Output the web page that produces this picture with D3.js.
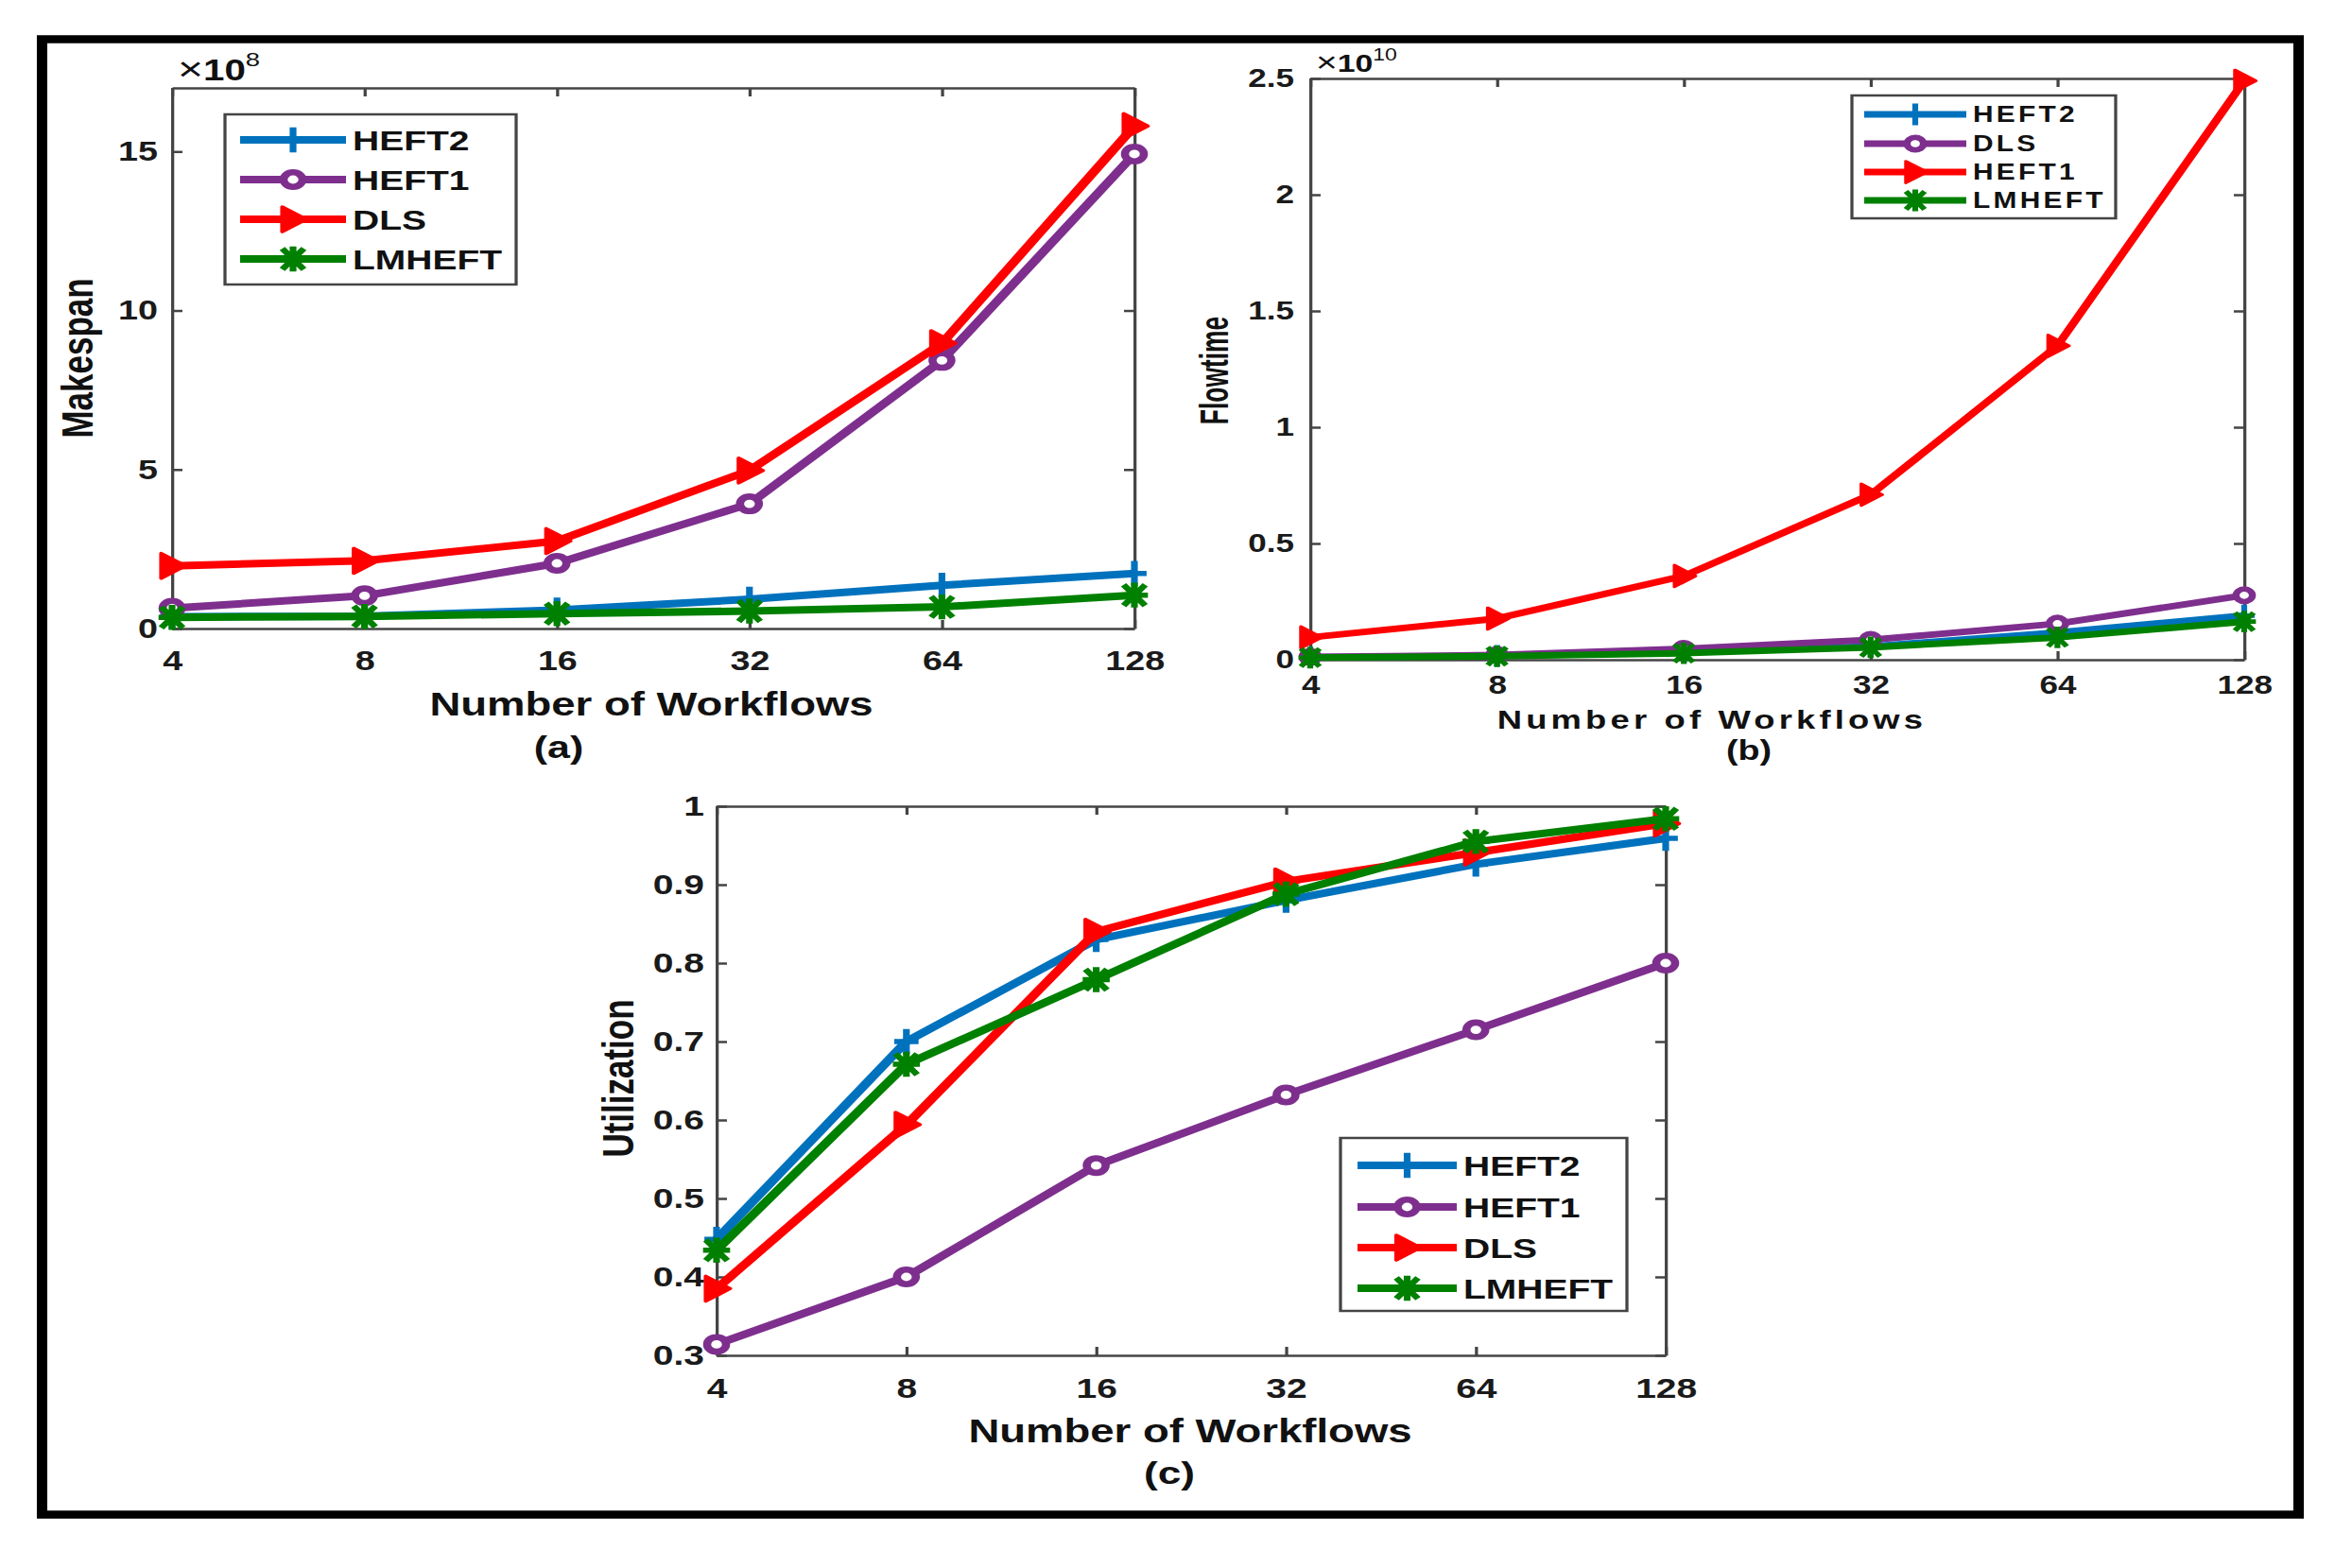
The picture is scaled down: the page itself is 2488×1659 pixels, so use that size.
<!DOCTYPE html>
<html>
<head>
  <meta charset="utf-8">
  <title>Makespan, Flowtime, Utilization</title>
  <script src="https://d3js.org/d3.v7.min.js"></script>
  <style>
    body { margin: 0; background: #fff; }
  </style>
</head>
<body>
  <div id="chart"></div>

  <script>
    // categories (x axis, evenly spaced)
    var workflows = ["4", "8", "16", "32", "64", "128"];

    // (a) makespan, x10^8
    var makespanHEFT2  = [0.37, 0.39, 0.58, 0.92, 1.36, 1.73];
    var makespanHEFT1  = [0.64, 1.03, 2.05, 3.92, 8.43, 14.92];
    var makespanDLS    = [1.97, 2.13, 2.75, 4.97, 8.97, 15.8];
    var makespanLMHEFT = [0.35, 0.38, 0.47, 0.55, 0.68, 1.05];
    var makespanTicks  = [0, 5, 10, 15];

    // (b) flowtime, x10^10 (legend names differ from (a))
    var flowHEFT2  = [0.010, 0.017, 0.032, 0.057, 0.117, 0.190];
    var flowDLS    = [0.012, 0.020, 0.047, 0.085, 0.155, 0.277];
    var flowHEFT1  = [0.096, 0.177, 0.360, 0.710, 1.350, 2.490];
    var flowLMHEFT = [0.009, 0.015, 0.028, 0.053, 0.096, 0.164];
    var flowTicks  = [0, 0.5, 1, 1.5, 2, 2.5];

    // (c) utilization
    var utilHEFT2  = [0.448, 0.700, 0.830, 0.880, 0.926, 0.959];
    var utilHEFT1  = [0.314, 0.400, 0.542, 0.632, 0.715, 0.800];
    var utilDLS    = [0.385, 0.594, 0.840, 0.904, 0.941, 0.978];
    var utilLMHEFT = [0.434, 0.671, 0.779, 0.888, 0.955, 0.984];
    var utilTicks  = [0.3, 0.4, 0.5, 0.6, 0.7, 0.8, 0.9, 1];

    var BLUE = "#0072BD", PURPLE = "#7E2F8E", RED = "#FF0000", GREEN = "#008000";

    // the whole figure is stretched sideways, so draw in a squeezed space
    var S = 1.3;
    var sx = v => v / S;
    var FONT = "'Liberation Sans', Arial, Helvetica, sans-serif";

    var svg = d3.select("#chart").append("svg")
      .attr("width", 2488).attr("height", 1659);
    var root = svg.append("g").attr("transform", "scale(" + S + ",1)");

    // outer black frame
    root.append("rect")
      .attr("x", sx(44.5)).attr("y", 41.5)
      .attr("width", sx(2431.5 - 44.5)).attr("height", 1602.5 - 41.5)
      .attr("fill", "none").attr("stroke", "#000").attr("stroke-width", 8.5);

    function txt(parent, x, y, str, size, opt) {
      opt = opt || {};
      var t = parent.append("text")
        .attr("x", sx(x)).attr("y", y)
        .attr("font-family", FONT)
        .attr("font-weight", opt.weight || "bold")
        .attr("font-size", size)
        .attr("text-anchor", opt.anchor || "middle")
        .attr("fill", "#111")
        .text(str);
      if (opt.ls) t.attr("letter-spacing", opt.ls);
      return t;
    }

    function marker(g, kind, cx, cy, color, k) {
      var m = g.append("g").attr("transform", "translate(" + cx + "," + cy + ") scale(" + k + ")");
      if (kind == "plus") {
        m.append("path").attr("d", "M-9,0H9M0,-12V12")
          .attr("stroke", color).attr("stroke-width", 5).attr("fill", "none");
      } else if (kind == "circle") {
        m.append("circle").attr("r", 7)
          .attr("fill", "#fff").attr("stroke", color).attr("stroke-width", 6);
      } else if (kind == "tri") {
        m.append("path").attr("d", "M-8,-12L10,0L-8,12Z")
          .attr("fill", color).attr("stroke", color).attr("stroke-width", 3)
          .attr("stroke-linejoin", "round");
      } else {
        m.append("path").attr("d", "M0,-12V12M-8,-10L8,10M-8,10L8,-10M-10,0H10")
          .attr("stroke", color).attr("stroke-width", 5).attr("fill", "none");
      }
    }

    function panel(c) {
      var b = c.box;
      var g = root.append("g");

      var x = d3.scalePoint().domain(workflows).range([sx(b.left), sx(b.right)]);
      var y = d3.scaleLinear().domain(c.yDomain).range([b.bottom, b.top]);

      // axes, ticks pointing inwards, box on
      var axes = [
        g.append("g").attr("transform", "translate(0," + b.bottom + ")")
          .call(d3.axisBottom(x).tickSizeInner(-9).tickSizeOuter(0).tickPadding(c.xPad)),
        g.append("g").attr("transform", "translate(0," + b.top + ")")
          .call(d3.axisTop(x).tickSizeInner(-9).tickSizeOuter(0).tickFormat("")),
        g.append("g").attr("transform", "translate(" + sx(b.left) + ",0)")
          .call(d3.axisLeft(y).tickValues(c.yTicks).tickFormat(d => String(d))
            .tickSizeInner(-11 / S).tickSizeOuter(0).tickPadding(c.yPad / S)),
        g.append("g").attr("transform", "translate(" + sx(b.right) + ",0)")
          .call(d3.axisRight(y).tickValues(c.yTicks).tickSizeInner(-11 / S)
            .tickSizeOuter(0).tickFormat(""))
      ];
      axes.forEach(a => {
        a.attr("font-family", FONT).attr("font-weight", "bold")
         .attr("font-size", c.tickFont).attr("color", "#1a1a1a");
        a.selectAll(".domain, line").attr("stroke", "#444").attr("stroke-width", 2.5);
      });

      // series
      var line = d3.line().x((d, i) => x(workflows[i])).y(d => y(d));
      c.series.forEach(s => {
        g.append("path").datum(s.values)
          .attr("d", line).attr("fill", "none")
          .attr("stroke", s.color).attr("stroke-width", c.lw)
          .attr("stroke-linejoin", "round");
        s.values.forEach((v, i) => marker(g, s.marker, x(workflows[i]), y(v), s.color, c.mk));
      });

      // legend
      var L = c.legend;
      g.append("rect")
        .attr("x", sx(L.x0)).attr("y", L.y0)
        .attr("width", sx(L.x1 - L.x0)).attr("height", L.y1 - L.y0)
        .attr("fill", "#fff").attr("stroke", "#444").attr("stroke-width", 2.5);
      c.series.forEach((s, i) => {
        var ry = L.rows[i];
        g.append("line")
          .attr("x1", sx(L.lineX[0])).attr("x2", sx(L.lineX[1]))
          .attr("y1", ry).attr("y2", ry)
          .attr("stroke", s.color).attr("stroke-width", c.lw);
        marker(g, s.marker, sx((L.lineX[0] + L.lineX[1]) / 2), ry, s.color, c.mk);
        txt(g, L.textX, ry + 0.36 * L.font, s.name, L.font, { anchor: "start", ls: L.ls });
      });

      // exponent label
      if (c.exp) {
        var e = txt(g, c.exp.x, c.exp.y, "", c.exp.size, { anchor: "start" });
        e.append("tspan").attr("font-weight", "normal").attr("font-size", c.exp.size * 1.15).text("\u00d7");
        e.append("tspan").text("10");
        e.append("tspan").attr("font-size", c.exp.size * 0.68).attr("font-weight", "normal")
          .attr("dy", -c.exp.size * 0.47).text(c.exp.power);
      }

      // axis titles
      txt(g, c.xlab.x, c.xlab.y, "Number of Workflows", c.xlab.size, { ls: c.xlab.ls });
      txt(g, c.sub.x, c.sub.y, c.sub.text, c.sub.size);
      g.append("text")
        .attr("transform", "translate(" + sx(c.ylab.x) + "," + c.ylab.y + ") rotate(-90) scale(" + (c.ylab.squeeze || 1) + ",1)")
        .attr("font-family", FONT)
        .attr("font-weight", "bold").attr("font-size", c.ylab.size)
        .attr("text-anchor", "middle").attr("fill", "#111")
        .text(c.ylab.text);
    }

    // (a)
    panel({
      box: { left: 182, right: 1200, top: 93, bottom: 665 },
      yDomain: [0, 17], yTicks: makespanTicks,
      tickFont: 29, xPad: 23, yPad: 15, lw: 8, mk: 1.1,
      series: [
        { name: "HEFT2",  values: makespanHEFT2,  color: BLUE,   marker: "plus" },
        { name: "HEFT1",  values: makespanHEFT1,  color: PURPLE, marker: "circle" },
        { name: "DLS",    values: makespanDLS,    color: RED,    marker: "tri" },
        { name: "LMHEFT", values: makespanLMHEFT, color: GREEN,  marker: "star" }
      ],
      legend: { x0: 238, x1: 546, y0: 121, y1: 301, rows: [148, 190, 232, 274],
                lineX: [254, 366], textX: 373, font: 30, ls: 0 },
      exp: { x: 188, y: 85, size: 31, power: "8" },
      xlab: { x: 689, y: 757, size: 35, ls: 0 },
      sub: { x: 591, y: 802, size: 33, text: "(a)" },
      ylab: { x: 98, y: 379, size: 35, text: "Makespan" }
    });

    // (b)
    panel({
      box: { left: 1386, right: 2374, top: 83, bottom: 698 },
      yDomain: [0, 2.5], yTicks: flowTicks,
      tickFont: 27, xPad: 17, yPad: 17, lw: 7, mk: 0.95,
      series: [
        { name: "HEFT2",  values: flowHEFT2,  color: BLUE,   marker: "plus" },
        { name: "DLS",    values: flowDLS,    color: PURPLE, marker: "circle" },
        { name: "HEFT1",  values: flowHEFT1,  color: RED,    marker: "tri" },
        { name: "LMHEFT", values: flowLMHEFT, color: GREEN,  marker: "star" }
      ],
      legend: { x0: 1959, x1: 2238, y0: 101, y1: 231, rows: [121, 152, 182, 212],
                lineX: [1972, 2080], textX: 2087, font: 23, ls: 2.5 },
      exp: { x: 1392, y: 76, size: 26, power: "10" },
      xlab: { x: 1811, y: 771, size: 28, ls: 3.2 },
      sub: { x: 1850, y: 804, size: 29, text: "(b)" },
      ylab: { x: 1299, y: 392, size: 33, text: "Flowtime", squeeze: 0.8 }
    });

    // (c)
    panel({
      box: { left: 758, right: 1762, top: 853, bottom: 1434 },
      yDomain: [0.3, 1], yTicks: utilTicks,
      tickFont: 30, xPad: 24, yPad: 13, lw: 8, mk: 1.1,
      series: [
        { name: "HEFT2",  values: utilHEFT2,  color: BLUE,   marker: "plus" },
        { name: "HEFT1",  values: utilHEFT1,  color: PURPLE, marker: "circle" },
        { name: "DLS",    values: utilDLS,    color: RED,    marker: "tri" },
        { name: "LMHEFT", values: utilLMHEFT, color: GREEN,  marker: "star" }
      ],
      legend: { x0: 1418, x1: 1721, y0: 1204, y1: 1387, rows: [1233, 1277, 1320, 1363],
                lineX: [1436, 1541], textX: 1548, font: 30, ls: 0 },
      exp: null,
      xlab: { x: 1259, y: 1526, size: 35, ls: 0 },
      sub: { x: 1237, y: 1570, size: 34, text: "(c)" },
      ylab: { x: 670, y: 1141, size: 35, text: "Utilization" }
    });
  </script>
</body>
</html>
